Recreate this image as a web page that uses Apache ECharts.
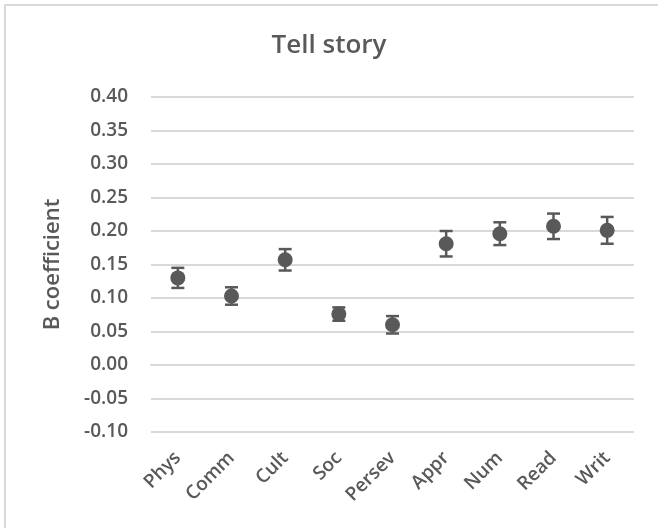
<!DOCTYPE html>
<html>
<head>
<meta charset="utf-8">
<script src="https://cdn.jsdelivr.net/npm/echarts@6/dist/echarts.min.js"></script>
<style>
  html, body { margin: 0; padding: 0; background: #fff; }
  #chart { width: 658px; height: 528px; }
</style>
</head>
<body>
<div id="chart"></div>
<script>
// Domains and their B coefficients with the interval bounds
const categories = ['Phys', 'Comm', 'Cult', 'Soc', 'Persev', 'Appr', 'Num', 'Read', 'Writ'];
const coefficients = [0.130, 0.103, 0.157, 0.076, 0.060, 0.181, 0.196, 0.207, 0.201];
const lowerBounds = [0.115, 0.090, 0.141, 0.066, 0.047, 0.162, 0.179, 0.188, 0.181];
const upperBounds = [0.145, 0.116, 0.173, 0.086, 0.073, 0.200, 0.213, 0.226, 0.221];
const yTicks = { min: -0.10, max: 0.40, step: 0.05 };

const ink = '#595959';
const font = '"Open Sans", Lato, sans-serif';
const weight = 600;

const chart = echarts.init(document.getElementById('chart'));

const errorData = categories.map((c, i) => [i, lowerBounds[i], upperBounds[i]]);

chart.setOption({
  backgroundColor: '#ffffff',
  animation: false,
  title: {
    text: 'Tell story',
    left: 'center',
    top: 28,
    textStyle: { color: ink, fontFamily: font, fontSize: 26, fontWeight: weight }
  },
  graphic: [{
    type: 'rect',
    shape: { x: 5, y: 5, width: 700, height: 600 },
    style: { fill: 'none', stroke: '#d9d9d9', lineWidth: 2 },
    silent: true
  }],
  grid: { left: 151, right: 24, top: 97, bottom: 96 },
  xAxis: {
    type: 'category',
    data: categories,
    boundaryGap: true,
    axisLine: { show: true, lineStyle: { color: '#d9d9d9', width: 2 } },
    axisTick: { show: false },
    axisLabel: {
      rotate: 45,
      margin: 23,
      color: ink,
      fontFamily: font,
      fontWeight: weight,
      fontSize: 19
    }
  },
  yAxis: {
    type: 'value',
    min: yTicks.min,
    max: yTicks.max,
    interval: yTicks.step,
    name: 'B coefficient',
    nameLocation: 'middle',
    nameGap: 87,
    nameTextStyle: { color: ink, fontFamily: font, fontWeight: weight, fontSize: 22 },
    axisLine: { show: false },
    axisTick: { show: false },
    splitLine: { lineStyle: { color: '#d9d9d9', width: 2 } },
    axisLabel: {
      margin: 23,
      color: ink,
      fontFamily: font,
      fontWeight: weight,
      fontSize: 19,
      formatter: v => v.toFixed(2)
    }
  },
  series: [
    {
      type: 'custom',
      name: 'interval',
      data: errorData,
      z: 3,
      renderItem: function (params, api) {
        const x = api.value(0);
        const lo = api.coord([x, api.value(1)]);
        const hi = api.coord([x, api.value(2)]);
        const half = 6.5;
        const style = { stroke: ink, lineWidth: 2.5 };
        return {
          type: 'group',
          children: [
            { type: 'line', shape: { x1: lo[0], y1: lo[1], x2: hi[0], y2: hi[1] }, style },
            { type: 'line', shape: { x1: lo[0] - half, y1: lo[1], x2: lo[0] + half, y2: lo[1] }, style },
            { type: 'line', shape: { x1: hi[0] - half, y1: hi[1], x2: hi[0] + half, y2: hi[1] }, style }
          ]
        };
      }
    },
    {
      type: 'scatter',
      name: 'B',
      data: coefficients,
      symbol: 'circle',
      symbolSize: 15,
      z: 4,
      itemStyle: { color: ink, opacity: 1 }
    }
  ]
});
</script>
</body>
</html>
